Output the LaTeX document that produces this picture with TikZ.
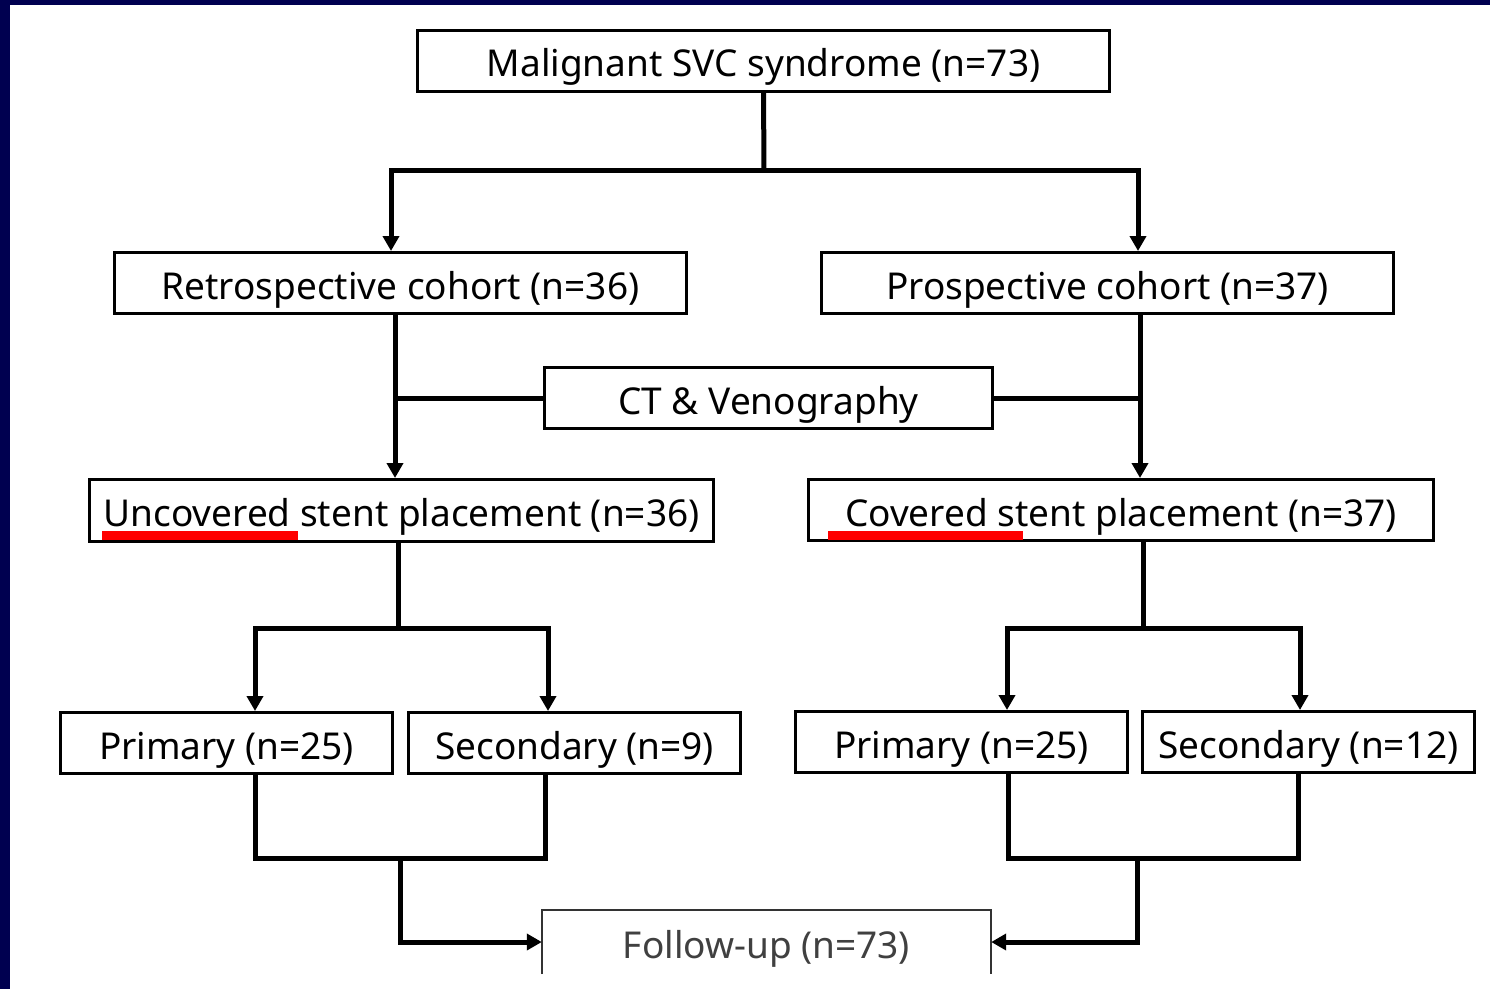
\documentclass[tikz,border=0pt]{standalone}
\usepackage{fontspec}
\setmainfont{Noto Sans}
\usetikzlibrary{arrows.meta,calc}
\definecolor{navy}{RGB}{0,0,80}
\definecolor{ulred}{RGB}{255,0,0}
\begin{document}
\begin{tikzpicture}[x=1pt,y=-1pt,
  txt/.style={inner sep=0pt, font=\fontsize{37}{42}\selectfont, align=center,
    text height=36pt, text depth=4pt},
  box/.style={txt, draw=black, line width=3pt, fill=white, text=black},
  conn/.style={draw=black, line width=5pt, line join=miter},
  arr/.style={conn, -{Triangle[length=15pt,width=16pt]}}]
% background
\fill[navy] (0,0) rectangle (1490,989);
\fill[white] (10,5) rectangle (1490,989);
\useasboundingbox (0,0) rectangle (1490,989);
% nodes
\node[box, minimum width=692pt, minimum height=61pt] (top) at (763.5,60.5) {Malignant SVC syndrome (n=73)};
\node[box, minimum width=572pt, minimum height=61pt] (retro) at (400.5,283) {Retrospective cohort (n=36)};
\node[box, minimum width=572pt, minimum height=61pt] (prosp) at (1107.5,283) {Prospective cohort (n=37)};
\node[box, minimum width=448pt, minimum height=61pt] (ct) at (768.5,398) {CT \& Venography};
\node[box, minimum width=624pt, minimum height=62pt] (uncov) at (401.5,510.5) {Uncovered stent placement (n=36)};
\node[box, minimum width=625pt, minimum height=61pt] (cov) at (1121,510) {Covered stent placement (n=37)};
\node[box, minimum width=332pt, minimum height=61pt] (p1) at (226.5,743) {Primary (n=25)};
\node[box, minimum width=332pt, minimum height=61pt] (s1) at (574.5,743) {Secondary (n=9)};
\node[box, minimum width=332pt, minimum height=61pt] (p2) at (961.5,742) {Primary (n=25)};
\node[box, minimum width=332pt, minimum height=61pt] (s2) at (1308.5,742) {Secondary (n=12)};
\node[txt, minimum width=449pt, minimum height=64pt, text=black!75] (fu) at (766.5,942) {Follow-up (n=73)};
\draw[black!80, line width=2pt] (fu.south west) -- (fu.north west) -- (fu.north east) -- (fu.south east);
% red underlines
\fill[ulred] (102,531) rectangle (298,540);
\fill[ulred] (828,531) rectangle (1023,540);
% junction coordinates
\coordinate (j1) at (764,170);
\coordinate (jL) at (391,170);
\coordinate (jR) at (1138,170);
\coordinate (cL) at (395,398);
\coordinate (cR) at (1140,398);
\coordinate (u1) at (398,628);
\coordinate (uL) at (255,628);
\coordinate (uR) at (548,628);
\coordinate (v1) at (1143,628);
\coordinate (vL) at (1007,628);
\coordinate (vR) at (1300,628);
\coordinate (m1) at (255,858);
\coordinate (m2) at (545,858);
\coordinate (mm) at (400,858);
\coordinate (n1) at (1008,858);
\coordinate (n2) at (1298,858);
\coordinate (nn) at (1137,858);
% connectors
\draw[conn] (top.south) -- (j1);
\draw[arr] (j1) -- (jL) -- (jL |- retro.north);
\draw[arr] (j1) -- (jR) -- (jR |- prosp.north);
\draw[arr] (retro.south -| cL) -- (cL) -- (cL |- uncov.north);
\draw[conn] (ct.west) -- (ct.west -| cL);
\draw[arr] (prosp.south -| cR) -- (cR) -- (cR |- cov.north);
\draw[conn] (ct.east) -- (ct.east -| cR);
\draw[conn] (uncov.south -| u1) -- (u1);
\draw[arr] (u1) -- (uL) -- (uL |- p1.north);
\draw[arr] (u1) -- (uR) -- (uR |- s1.north);
\draw[conn] (cov.south -| v1) -- (v1);
\draw[arr] (v1) -- (vL) -- (vL |- p2.north);
\draw[arr] (v1) -- (vR) -- (vR |- s2.north);
\draw[conn] (p1.south -| m1) -- (m1) -- (m2) -- (s1.south -| m2);
\draw[arr] (mm) |- (fu.west);
\draw[conn] (p2.south -| n1) -- (n1) -- (n2) -- (s2.south -| n2);
\draw[arr] (nn) |- (fu.east);
\end{tikzpicture}
\end{document}
